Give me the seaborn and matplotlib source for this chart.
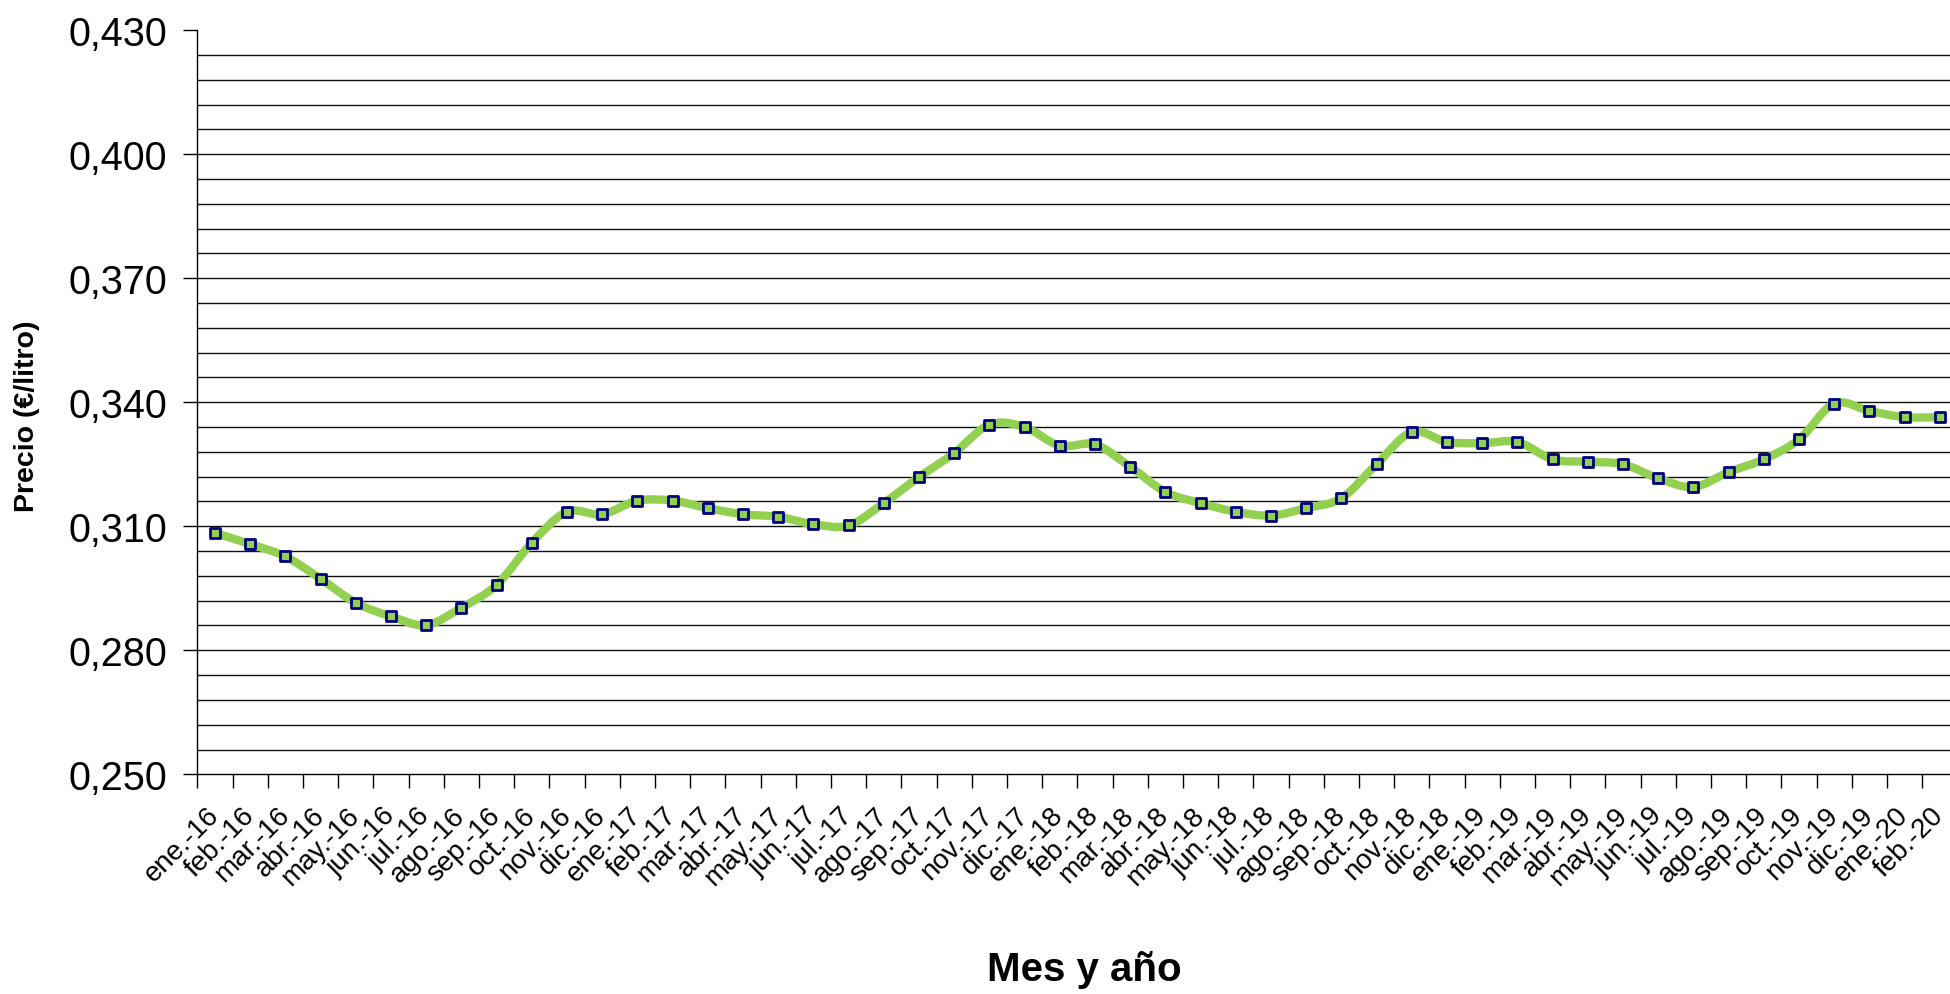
import numpy as np
import pandas as pd
import matplotlib
matplotlib.use("Agg")
import matplotlib.pyplot as plt
import matplotlib.transforms as mtransforms
import seaborn as sns
from matplotlib.path import Path
from matplotlib.patches import PathPatch
from matplotlib.ticker import FuncFormatter

meses = ["ene.", "feb.", "mar.", "abr.", "may.", "jun.", "jul.", "ago.", "sep.", "oct.", "nov.", "dic."]
etiquetas = [f"{m}-{a}" for a in ["16", "17", "18", "19"] for m in meses] + ["ene.-20", "feb.-20"]

precio = [0.3084, 0.3057, 0.3027, 0.2973, 0.2915, 0.2882, 0.2861, 0.2903, 0.2958, 0.3060,
          0.3135, 0.3129, 0.3162, 0.3162, 0.3144, 0.3129, 0.3123, 0.3105, 0.3102, 0.3156,
          0.3219, 0.3277, 0.3346, 0.3340, 0.3295, 0.3298, 0.3244, 0.3183, 0.3156, 0.3135,
          0.3126, 0.3144, 0.3168, 0.3250, 0.3328, 0.3304, 0.3301, 0.3304, 0.3262, 0.3256,
          0.3250, 0.3216, 0.3195, 0.3231, 0.3262, 0.3310, 0.3397, 0.3379, 0.3364, 0.3364]

y_min, y_max = 0.250, 0.430

df = pd.DataFrame({"mes": etiquetas, "precio": precio})
df["idx"] = np.arange(len(df))

sns.set_style("ticks")
plt.rcParams["font.family"] = ["Liberation Sans", "DejaVu Sans"]
plt.rcParams["text.color"] = "black"
plt.rcParams["xtick.color"] = "black"
plt.rcParams["ytick.color"] = "black"

fig = plt.figure(figsize=(19.5, 9.95), dpi=100)
ax = fig.add_axes([0.1012, 0.2208, 0.9026, 0.7478])

# smoothed line (excel-like bezier through the points)
x = df["idx"].values.astype(float)
y = df["precio"].values
xp = np.concatenate([[x[0]], x, [x[-1]]])
yp = np.concatenate([[y[0]], y, [y[-1]]])
verts = [(x[0], y[0])]
codes = [Path.MOVETO]
for i in range(len(x) - 1):
    c1 = (x[i] + (xp[i + 2] - xp[i]) / 6, y[i] + (yp[i + 2] - yp[i]) / 6)
    c2 = (x[i + 1] - (xp[i + 3] - xp[i + 1]) / 6, y[i + 1] - (yp[i + 3] - yp[i + 1]) / 6)
    verts += [c1, c2, (x[i + 1], y[i + 1])]
    codes += [Path.CURVE4] * 3
ax.add_patch(PathPatch(Path(verts, codes), facecolor="none", edgecolor="#92D050",
                       lw=6, capstyle="round", joinstyle="round", zorder=3))

sns.scatterplot(data=df, x="idx", y="precio", marker="s", s=60, color="#92D050",
                edgecolor="#000080", linewidth=2.0, ax=ax, zorder=4, legend=False)

ax.set_ylim(y_min, y_max)
ax.set_xlim(-0.5, len(df) - 0.5)
ax.set_yticks(np.arange(y_min, y_max + 1e-9, 0.03))
ax.set_yticks(np.arange(y_min, y_max + 1e-9, 0.006), minor=True)
ax.yaxis.set_major_formatter(FuncFormatter(lambda v, p: f"{v:.3f}".replace(".", ",")))
ax.grid(axis="y", which="both", color="#111111", lw=1.0)
ax.set_axisbelow(True)
ax.get_ygridlines()[-1].set_visible(False)
ax.get_ygridlines()[0].set_visible(False)

ax.set_xticks(np.arange(len(df) + 1) - 0.5)
ax.set_xticklabels([])
ax.set_xticks(np.arange(len(df)), minor=True)
ax.set_xticklabels(etiquetas, minor=True, rotation=45, ha="right", va="baseline",
                   rotation_mode="anchor", fontsize=20)
ax.tick_params(axis="x", which="major", length=10, width=1)
ax.tick_params(axis="x", which="minor", length=0, pad=30)
ax.tick_params(axis="y", which="major", length=10, width=1, labelsize=28.5, pad=12)
ax.tick_params(axis="y", which="minor", length=0)
shift = mtransforms.ScaledTranslation(0.05, 0, fig.dpi_scale_trans)
for lab in ax.get_xticklabels(minor=True):
    lab.set_transform(lab.get_transform() + shift)

for s in ["top", "right"]:
    ax.spines[s].set_visible(False)
for s in ["left", "bottom"]:
    ax.spines[s].set_color("black")
    ax.spines[s].set_linewidth(1.0)

ax.set_xlabel("")
ax.set_ylabel("")
fig.text(0.0141, 0.582, "Precio (€/litro)", rotation=90, ha="center", va="center",
         fontsize=20.5, fontweight="bold")
fig.text(0.556, 0.025, "Mes y año", ha="center", va="center", fontsize=29, fontweight="bold")

fig.savefig("out.png", dpi=100)
